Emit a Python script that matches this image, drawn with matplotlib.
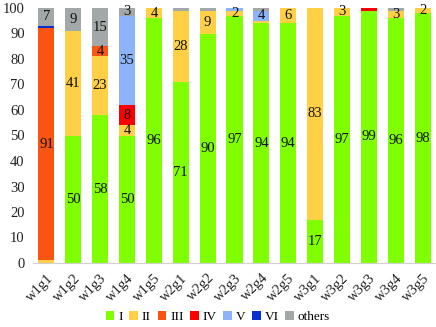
import matplotlib
matplotlib.use('Agg')
import matplotlib.pyplot as plt
import numpy as np

plt.rcParams['font.family'] = ['Liberation Serif', 'DejaVu Serif']

groups = ['w1g1', 'w1g2', 'w1g3', 'w1g4', 'w1g5',
          'w2g1', 'w2g2', 'w2g3', 'w2g4', 'w2g5',
          'w3g1', 'w3g2', 'w3g3', 'w3g4', 'w3g5']

series_names = ['I', 'II', 'III', 'IV', 'V', 'VI', 'others']
s_I      = [0, 50, 58, 50, 96, 71, 90, 97, 94, 94, 17, 97, 99, 96, 98]
s_II     = [1, 41, 23, 4, 4, 28, 9, 2, 1, 6, 83, 3, 0, 3, 2]
s_III    = [91, 0, 4, 0, 0, 0, 0, 0, 0, 0, 0, 0, 0, 0, 0]
s_IV     = [0, 0, 0, 8, 0, 0, 0, 0, 0, 0, 0, 0, 1, 0, 0]
s_V      = [0, 0, 0, 35, 0, 0, 0, 1, 4, 0, 0, 0, 0, 0, 0]
s_VI     = [1, 0, 0, 0, 0, 0, 0, 0, 0, 0, 0, 0, 0, 0, 0]
s_others = [7, 9, 15, 3, 0, 1, 1, 0, 1, 0, 0, 0, 0, 1, 0]

colors = ['#80FF00', '#FFCF45', '#FA5510', '#FF0000', '#8DB4FA', '#0A2FD0', '#A2A8A8']

data = [s_I, s_II, s_III, s_IV, s_V, s_VI, s_others]

fig = plt.figure(figsize=(4.36, 3.27), dpi=100)
ax = fig.add_axes([33 / 436, 64 / 327, 403 / 436, 255 / 327])

x = np.arange(len(groups))
bottom = np.zeros(len(groups))
for name, vals, c in zip(series_names, data, colors):
    vals = np.array(vals, dtype=float)
    ax.bar(x, vals, 0.6, bottom=bottom, color=c, label=name)
    for xi, b, v in zip(x, bottom, vals):
        if v >= 2:
            ax.text(xi, b + v / 2, str(int(v)), ha='center', va='center',
                    fontsize=10.5, color='#111111')
    bottom += vals

ax.set_xlim(-0.5, len(groups) - 0.5)
ax.set_ylim(0, 100)
ax.set_yticks(range(0, 101, 10))
ax.set_xticks(x)
ax.set_xticklabels(groups, rotation=45, ha='right', rotation_mode='anchor')
ax.tick_params(axis='both', length=0, labelsize=10.5, colors='#222222')
ax.tick_params(axis='x', pad=6)
ax.tick_params(axis='y', pad=6)
for s in ['top', 'right', 'left']:
    ax.spines[s].set_visible(False)
ax.spines['bottom'].set_color('#D0D0D0')

handles, labels = ax.get_legend_handles_labels()
fig.legend(handles, labels, loc='lower center', bbox_to_anchor=(0.5, -0.025),
           ncol=7, frameon=False, fontsize=9.5, handlelength=0.65, handleheight=0.65,
           handletextpad=0.3, columnspacing=0.5)

fig.savefig('out.png', dpi=100)
